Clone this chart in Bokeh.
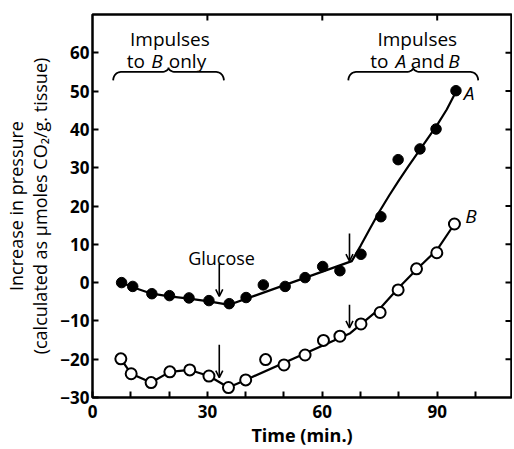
import numpy as np
from bokeh.plotting import figure
from bokeh.models import ColumnDataSource, FixedTicker, Range1d, Arrow, OpenHead
from bokeh.core.properties import value
from bokeh.embed import file_html
from bokeh.resources import INLINE

# ---------------- data ----------------
time_A = [7.6, 10.5, 15.5, 20.1, 25.2, 30.4, 35.7, 40.1, 44.6, 50.3, 55.5, 60.1,
          64.6, 70.1, 75.3, 79.8, 85.5, 89.7, 94.9]
press_A = [0.0, -1.0, -2.9, -3.4, -4.0, -4.7, -5.5, -3.9, -0.6, -1.0, 1.3, 4.2,
           3.1, 7.4, 17.2, 32.1, 34.9, 40.1, 50.1]

time_B = [7.4, 10.1, 15.3, 20.2, 25.4, 30.4, 35.5, 40.0, 45.2, 50.0, 55.5, 60.3,
          64.6, 70.1, 75.1, 79.8, 84.6, 89.9, 94.5]
press_B = [-19.9, -23.8, -26.1, -23.3, -22.8, -24.4, -27.4, -25.4, -20.1, -21.5,
           -18.9, -15.1, -14.0, -10.8, -7.8, -1.9, 3.6, 7.8, 15.3]

# drawn (fitted) lines
line_A_time = [7.6, 10.5, 15.5, 20.1, 25.2, 30.4, 35.7, 67.7, 70.0, 72.5, 75.0,
               77.5, 80.0, 82.5, 85.0, 87.5, 90.0, 92.5, 94.9]
line_A_press = [0.0, -1.2, -2.9, -3.6, -4.2, -4.9, -5.8, 5.6, 9.6, 14.2, 18.7,
                22.8, 26.7, 30.4, 34.0, 37.6, 41.2, 45.2, 49.8]
line_B_time = [7.4, 10.1, 15.3, 20.2, 25.4, 30.4, 35.5, 40.0, 67.3, 75.0, 80.0,
               85.0, 90.0, 94.5]
line_B_press = [-19.9, -23.8, -26.1, -23.3, -22.8, -24.4, -27.4, -25.4, -13.2,
                -6.8, -1.3, 3.8, 8.6, 15.3]

# arrows: (time, top, bottom)
glucose_arrows = [(33.1, 5.0, -3.6), (33.1, -16.2, -24.8)]
switch_arrows = [(67.1, 12.8, 5.6), (67.1, -5.8, -11.8)]

# axis ticks and labels
x_ticks = [0, 10, 20, 30, 40, 50, 60, 70, 80, 90, 100]
x_tick_labels = {0: "0", 30: "30", 60: "60", 90: "90"}
y_ticks = [-30, -20, -10, 0, 10, 20, 30, 40, 50, 60]
y_tick_labels = {-30: "\u221230", -20: "\u221220", -10: "\u221210", 0: "0", 10: "10",
                 20: "20", 30: "30", 40: "40", 50: "50", 60: "60"}
top_ticks = [30, 60, 90]
right_ticks = [-20, -10, 0, 10, 20, 30, 40, 50, 60]

x_title = "Time (min.)"
y_title = "Increase in pressure\n(calculated as \u03bcmoles CO\u2082/g. tissue)"

FONT = "Open Sans"
X0, X1, Y0, Y1 = 0, 109.4, -30, 70

p = figure(width=512, height=449, x_range=Range1d(X0, X1), y_range=Range1d(Y0, Y1),
           output_backend="svg", toolbar_location=None,
           min_border_left=92, min_border_right=1, min_border_top=14, min_border_bottom=51)
p.grid.visible = False
p.outline_line_color = "black"
p.outline_line_width = 2.5
p.background_fill_color = "white"
p.border_fill_color = "white"

xa = p.xaxis[0]
xa.ticker = FixedTicker(ticks=x_ticks)
xa.major_label_overrides = {t: x_tick_labels.get(t, "") for t in x_ticks}
xa.axis_label = x_title
ya = p.yaxis[0]
ya.ticker = FixedTicker(ticks=y_ticks)
ya.major_label_overrides = {t: y_tick_labels[t] for t in y_ticks}
ya.axis_label = y_title

for ax in (xa, ya):
    ax.axis_line_color = None
    ax.major_tick_in = 6
    ax.major_tick_out = 0
    ax.major_tick_line_width = 2
    ax.minor_tick_line_color = None
    ax.major_label_text_font = FONT
    ax.major_label_text_font_style = "bold"
    ax.major_label_text_font_size = "17px"
    ax.major_label_text_color = "black"
    ax.axis_label_text_font = FONT
    ax.axis_label_text_color = "black"
xa.major_label_standoff = 7
xa.axis_label_text_font_style = "bold"
xa.axis_label_text_font_size = "18px"
xa.axis_label_standoff = 2
ya.major_label_standoff = 3
ya.axis_label_text_font_style = "normal"
ya.axis_label_text_font_size = "18px"
ya.axis_label_text_line_height = 1.0
ya.axis_label_standoff = 5

# inner ticks on the top and right frame edges
tick_len_x = 6 / 3.83
tick_len_y = 6 / 3.84
p.segment(x0=top_ticks, y0=[Y1] * len(top_ticks), x1=top_ticks,
          y1=[Y1 - tick_len_y] * len(top_ticks), line_color="black", line_width=2)
p.segment(x0=[X1] * len(right_ticks), y0=right_ticks, x1=[X1 - tick_len_x] * len(right_ticks),
          y1=right_ticks, line_color="black", line_width=2)

# lines
p.line(line_A_time, line_A_press, line_color="black", line_width=2.2)
p.line(line_B_time, line_B_press, line_color="black", line_width=2.2)

# markers
srcA = ColumnDataSource(dict(t=time_A, v=press_A))
srcB = ColumnDataSource(dict(t=time_B, v=press_B))
p.scatter("t", "v", source=srcA, size=10.5, marker="circle", fill_color="black",
          line_color="black")
p.scatter("t", "v", source=srcB, size=11, marker="circle", fill_color="white",
          line_color="black", line_width=2)

# arrows
for (xx, y0, y1) in glucose_arrows + switch_arrows:
    p.add_layout(Arrow(end=OpenHead(size=7, line_width=1.6, line_color="black"),
                       x_start=xx, y_start=y0, x_end=xx, y_end=y1,
                       line_width=1.6, line_color="black"))

# braces
def brace(x0, x1, y, d=2.2, c=1.1):
    xm = 0.5 * (x0 + x1)
    r = 2.0
    th = np.linspace(np.pi, np.pi / 2, 12)
    lx = x0 + r + r * np.cos(th)
    ly = y - d + d * np.sin(th)
    th2 = np.linspace(-np.pi / 2, 0, 12)
    mlx = xm - r + r * np.cos(th2)
    mly = y + c + c * np.sin(th2)
    xs = list(lx) + list(mlx)
    ys = list(ly) + list(mly)
    xs_r = [2 * xm - v for v in xs[::-1]]
    ys_r = ys[::-1]
    return xs + xs_r, ys + ys_r

brace_spans = [(5.4, 34.3, 55.0), (66.8, 100.7, 55.0)]
for (b0, b1, by) in brace_spans:
    bx, byy = brace(b0, b1, by)
    p.line(bx, byy, line_color="black", line_width=1.8)

# texts: (x, y, text, style, size)
texts = [
    (20.2, 63.6, "Impulses", "normal", "19px"),
    (11.3, 57.9, "to", "normal", "19px"),
    (16.8, 57.9, "B", "italic", "19px"),
    (24.8, 57.9, "only", "normal", "19px"),
    (84.8, 63.6, "Impulses", "normal", "19px"),
    (74.9, 57.9, "to", "normal", "19px"),
    (80.5, 57.9, "A", "italic", "19px"),
    (87.5, 57.9, "and", "normal", "19px"),
    (94.4, 57.9, "B", "italic", "19px"),
    (33.7, 6.4, "Glucose", "normal", "18px"),
]
for (tx, ty, tt, ts, tsz) in texts:
    p.text(x=[tx], y=[ty], text=[tt], text_font=value(FONT), text_font_size=value(tsz),
           text_font_style=ts, text_align="center", text_baseline="alphabetic",
           text_color="black")

series_labels = [(96.9, 49.6, "A"), (97.3, 17.4, "B")]
for (tx, ty, tt) in series_labels:
    p.text(x=[tx], y=[ty], text=[tt], text_font=value(FONT), text_font_size=value("19px"),
           text_font_style="italic", text_align="left", text_baseline="middle",
           text_color="black")

open("out.html", "w").write(file_html(p, INLINE))
